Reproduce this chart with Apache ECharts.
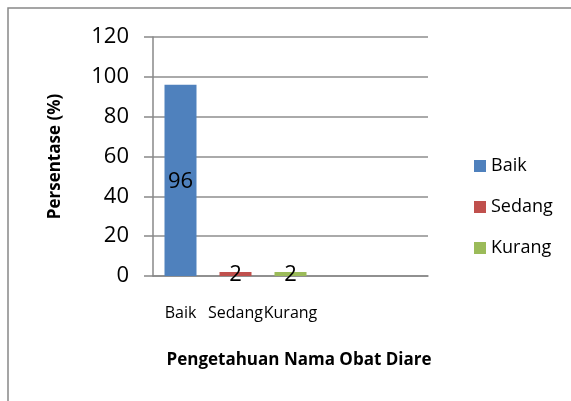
<!DOCTYPE html>
<html>
<head>
<meta charset="utf-8">
<script src="https://cdn.jsdelivr.net/npm/echarts@6/dist/echarts.min.js"></script>
<style>
html,body{margin:0;padding:0;background:#fff;}
#chart{width:571px;height:401px;}
</style>
</head>
<body>
<div id="chart"></div>
<script>
// Data
var categories = ['Baik', 'Sedang', 'Kurang', '', ''];
var seriesNames = ['Baik', 'Sedang', 'Kurang'];
var baikValues = [96, null, null, null, null];
var sedangValues = [null, 2, null, null, null];
var kurangValues = [null, null, 2, null, null];
var yTicks = [0, 20, 40, 60, 80, 100, 120];
var xTitle = 'Pengetahuan Nama Obat Diare';
var yTitle = 'Persentase (%)';

var colors = ['#4F81BD', '#C0504D', '#9BBB59'];
var font = 'Open Sans';
var allValues = [baikValues, sedangValues, kurangValues];

var chart = echarts.init(document.getElementById('chart'), null, {renderer: 'canvas'});
var series = seriesNames.map(function (name, i) {
  return {
    name: name,
    type: 'bar',
    stack: 'all',
    data: allValues[i],
    barWidth: 32,
    itemStyle: {color: colors[i]},
    label: {
      show: true,
      position: 'inside',
      offset: [0, 1],
      color: '#000',
      fontFamily: font,
      fontSize: 22,
      formatter: function (p) { return p.value == null ? '' : String(p.value); }
    }
  };
});

chart.setOption({
  animation: false,
  color: colors,
  graphic: [{
    type: 'rect',
    shape: {x: 8, y: 8, width: 620, height: 440},
    style: {fill: 'none', stroke: '#888888', lineWidth: 1.5},
    silent: true
  }],
  grid: {left: 153, right: 143, top: 37, bottom: 125},
  legend: {
    orient: 'vertical',
    left: 469,
    top: 152,
    itemWidth: 12,
    itemHeight: 12,
    itemGap: 23,
    icon: 'rect',
    data: seriesNames,
    textStyle: {fontFamily: font, fontSize: 18, color: '#000', lineHeight: 18}
  },
  xAxis: {
    type: 'category',
    data: categories,
    name: xTitle,
    nameLocation: 'middle',
    nameGap: 76,
    nameTextStyle: {fontFamily: font, fontSize: 17, fontWeight: 'bold', color: '#000', padding: [0, 0, 0, 17], lineHeight: 17},
    axisLine: {lineStyle: {color: '#888888', width: 1.5}},
    axisTick: {show: false},
    axisLabel: {interval: 0, margin: 29, fontFamily: font, fontSize: 16, color: '#000', lineHeight: 16}
  },
  yAxis: {
    type: 'value',
    min: yTicks[0],
    max: yTicks[yTicks.length - 1],
    interval: yTicks[1] - yTicks[0],
    name: yTitle,
    nameLocation: 'middle',
    nameGap: 89,
    nameTextStyle: {fontFamily: font, fontSize: 17, fontWeight: 'bold', color: '#000'},
    axisLine: {show: true, lineStyle: {color: '#888888', width: 1.5}},
    axisTick: {show: true, length: 9, lineStyle: {color: '#888888', width: 1.5}},
    axisLabel: {margin: 24, fontFamily: font, fontSize: 22, color: '#000'},
    splitLine: {lineStyle: {color: '#8e8e8e', width: 1.5}}
  },
  series: series
});
</script>
</body>
</html>
